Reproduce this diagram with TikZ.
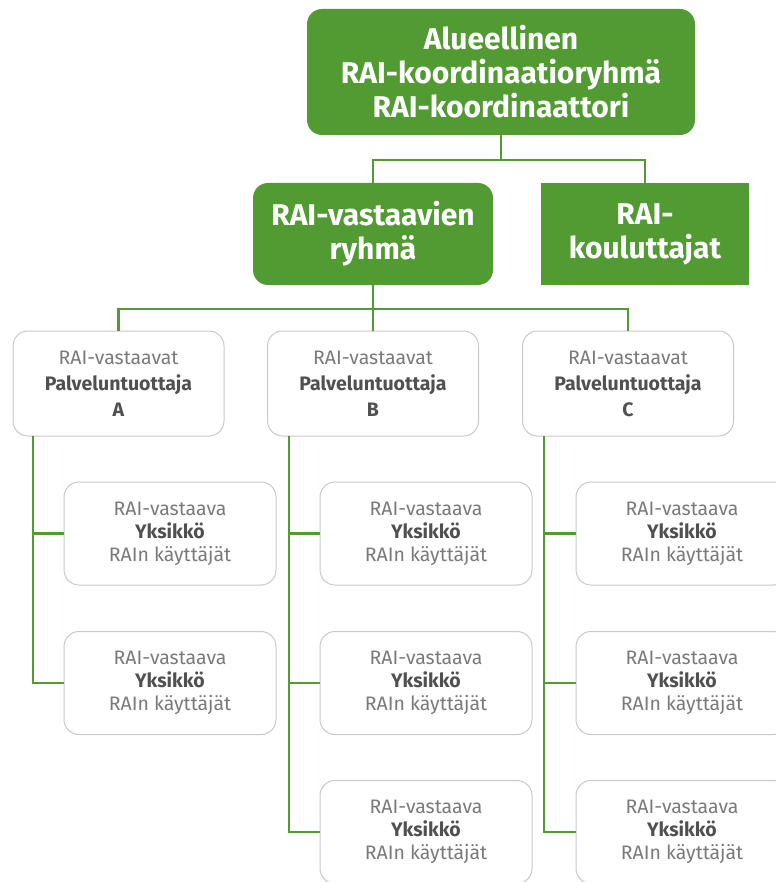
\documentclass[tikz,border=0pt]{standalone}
\usepackage{fontspec}
\setmainfont{Fira Sans}
\definecolor{rgreen}{HTML}{529B33}
\definecolor{lgray}{HTML}{C9C9C9}
\definecolor{tgray}{HTML}{7A7A7A}
\definecolor{dgray}{HTML}{505050}
\tikzset{
  gbox/.style={fill=rgreen, draw=none, rounded corners=15pt, text=white, font=\fontsize{30}{34}\selectfont\bfseries, align=center, inner sep=0pt},
  pbox/.style={draw=lgray, line width=1pt, fill=white, rounded corners=15pt, minimum width=211pt, minimum height=105pt, align=center, inner sep=0pt, text=tgray, font=\fontsize{19.5}{26}\selectfont},
  ubox/.style={draw=lgray, line width=1pt, fill=white, rounded corners=15pt, minimum width=212pt, minimum height=103pt, align=center, inner sep=0pt, text=tgray, font=\fontsize{19.5}{23}\selectfont},
  conn/.style={draw=rgreen, line width=2.6pt},
}
\newcommand{\bd}[1]{{\bfseries\color{dgray}#1}}
\begin{document}
\begin{tikzpicture}[x=1pt,y=-1pt]
\useasboundingbox (0,0) rectangle (776,882);
\clip (0,0) rectangle (776,882);
% top level
\node[gbox, minimum width=388pt, minimum height=126pt] (top) at (501,72) {Alueellinen\\RAI-koordinaatioryhmä\\RAI-koordinaattori};
\node[gbox, minimum width=240pt, minimum height=102pt] (ryhma) at (373,234) {RAI-vastaavien\\ryhmä};
\node[gbox, rounded corners=0pt, minimum width=208pt, minimum height=102pt] (koul) at (645,234) {RAI-\\kouluttajat};
\coordinate (j1) at (501,160);
\draw[conn] (top.south) -- (j1);
\draw[conn] (ryhma.north) |- (j1) -| (koul.north);
% providers
\node[pbox] (pA) at (118.5,383.5) {RAI-vastaavat\\\bd{Palveluntuottaja}\\\bd{A}};
\node[pbox] (pB) at (373,383.5) {RAI-vastaavat\\\bd{Palveluntuottaja}\\\bd{B}};
\node[pbox] (pC) at (628,383.5) {RAI-vastaavat\\\bd{Palveluntuottaja}\\\bd{C}};
\coordinate (j2) at (373,309);
\draw[conn] (ryhma.south) -- (pB.north);
\draw[conn] (pA.north) |- (j2) -| (pC.north);
% units
\newcommand{\unittext}{RAI-vastaava\\\bd{Yksikkö}\\RAIn käyttäjät}
\node[ubox] (a1) at (170,533.5) {\unittext};
\node[ubox] (a2) at (170,683) {\unittext};
\node[ubox] (b1) at (426,533.5) {\unittext};
\node[ubox] (b2) at (426,683) {\unittext};
\node[ubox] (b3) at (426,832) {\unittext};
\node[ubox] (c1) at (682,533.5) {\unittext};
\node[ubox] (c2) at (682,683) {\unittext};
\node[ubox] (c3) at (682,832) {\unittext};
\coordinate (aL) at (33,436);
\coordinate (bL) at (289,436);
\coordinate (cL) at (544,436);
\draw[conn] (aL) |- (a2.west);
\draw[conn] (a1.west) -- (a1.west -| aL);
\draw[conn] (bL) |- (b3.west);
\draw[conn] (b1.west) -- (b1.west -| bL);
\draw[conn] (b2.west) -- (b2.west -| bL);
\draw[conn] (cL) |- (c3.west);
\draw[conn] (c1.west) -- (c1.west -| cL);
\draw[conn] (c2.west) -- (c2.west -| cL);
\end{tikzpicture}
\end{document}
